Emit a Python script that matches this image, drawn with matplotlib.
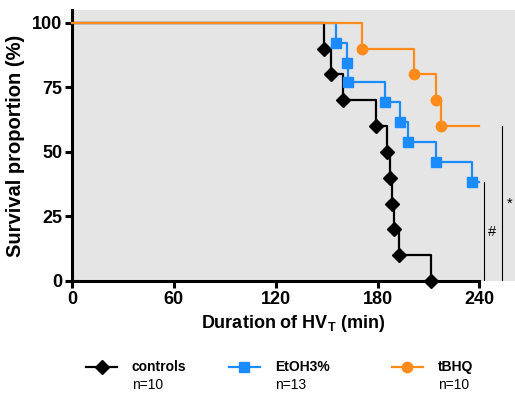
import matplotlib
matplotlib.use("Agg")
import matplotlib.pyplot as plt
from matplotlib.lines import Line2D

plt.rcParams['font.family'] = ['Liberation Sans', 'DejaVu Sans']
plt.rcParams['mathtext.fontset'] = 'custom'
plt.rcParams['mathtext.rm'] = 'Liberation Sans:bold'
plt.rcParams['mathtext.it'] = 'Liberation Sans:bold'
plt.rcParams['mathtext.bf'] = 'Liberation Sans:bold'

# Kaplan-Meier event times (min) and survival after each event (%)
ctrl_t = [148.5, 152.5, 159.5, 179, 185.5, 187.5, 188.5, 189.5, 192.5, 211.5]
ctrl_s = [90, 80, 70, 60, 50, 40, 30, 20, 10, 0]
etoh_t = [155.5, 162, 162.7, 184.5, 193, 198, 214.5, 235.5]
etoh_s = [92.3, 84.6, 76.9, 69.2, 61.5, 53.8, 46.2, 38.5]
tbhq_t = [171, 201.5, 214.5, 217.5]
tbhq_s = [90, 80, 70, 60]
end_t = 240

groups = ['controls', 'EtOH3%', 'tBHQ']
counts = ['n=10', 'n=13', 'n=10']
colors = ['black', '#1a8cff', '#ff8c1a']
markers = ['D', 's', 'o']
msizes = [6.8, 7, 7.5]

fig = plt.figure(figsize=(5.15, 3.93), dpi=100)
ax = fig.add_axes([0.14, 0.285, 0.86, 0.69])
ax.set_facecolor('#e5e5e5')

series = [(ctrl_t, ctrl_s, None), (etoh_t, etoh_s, end_t), (tbhq_t, tbhq_s, end_t)]
for i, (t, s, tend) in enumerate(series):
    xs = [0] + t
    ys = [100] + s
    if tend is not None:
        xs = xs + [tend]
        ys = ys + [s[-1]]
    ax.step(xs, ys, where='post', color=colors[i], lw=1.6, zorder=2 + i, clip_on=False)
    ax.plot(t, s, ls='none', marker=markers[i], ms=msizes[i], color=colors[i],
            zorder=2 + i, clip_on=False)

# significance bars
ax.plot([242.5, 242.5], [38.5, 0.5], color='black', lw=0.8)
ax.text(247.5, 19, '#', ha='center', va='center', fontsize=10.5)
ax.plot([253.5, 253.5], [60, 0], color='black', lw=0.8)
ax.text(258, 30, '*', ha='center', va='center', fontsize=10.5)

ax.set_xlim(0, 261)
ax.set_ylim(0, 105)
ax.set_xticks([0, 60, 120, 180, 240])
ax.set_yticks([0, 25, 50, 75, 100])
ax.spines['top'].set_visible(False)
ax.spines['right'].set_visible(False)
ax.spines['left'].set_linewidth(2.2)
ax.spines['bottom'].set_linewidth(2.2)
ax.spines['bottom'].set_bounds(0, 240)
ax.tick_params(direction='out', length=5, width=2.2, labelsize=13, pad=2)
for lab in ax.get_xticklabels() + ax.get_yticklabels():
    lab.set_fontweight('bold')

ax.set_xlabel(r'Duration of HV$_\mathrm{T}$ (min)', fontsize=13, fontweight='bold', labelpad=4)
ax.set_ylabel('Survival proportion (%)', fontsize=14.5, fontweight='bold', labelpad=5)

# legend drawn below the axes
W, H = 515.0, 393.0
line_x = [86, 228.7, 391.7]
for i in range(3):
    x0 = line_x[i] / W
    x1 = (line_x[i] + 31) / W
    y = 1 - 367 / H
    fig.add_artist(Line2D([x0, (x0 + x1) / 2, x1], [y, y, y], transform=fig.transFigure,
                          color=colors[i], lw=1.6, marker=markers[i], ms=msizes[i],
                          markevery=[1]))
    tx = (line_x[i] + 46) / W
    fig.text(tx, 1 - 367 / H, groups[i], fontsize=10, fontweight='bold', va='center')
    fig.text(tx, 1 - 385 / H, counts[i], fontsize=10, va='center')

fig.savefig('out.png', dpi=100)
